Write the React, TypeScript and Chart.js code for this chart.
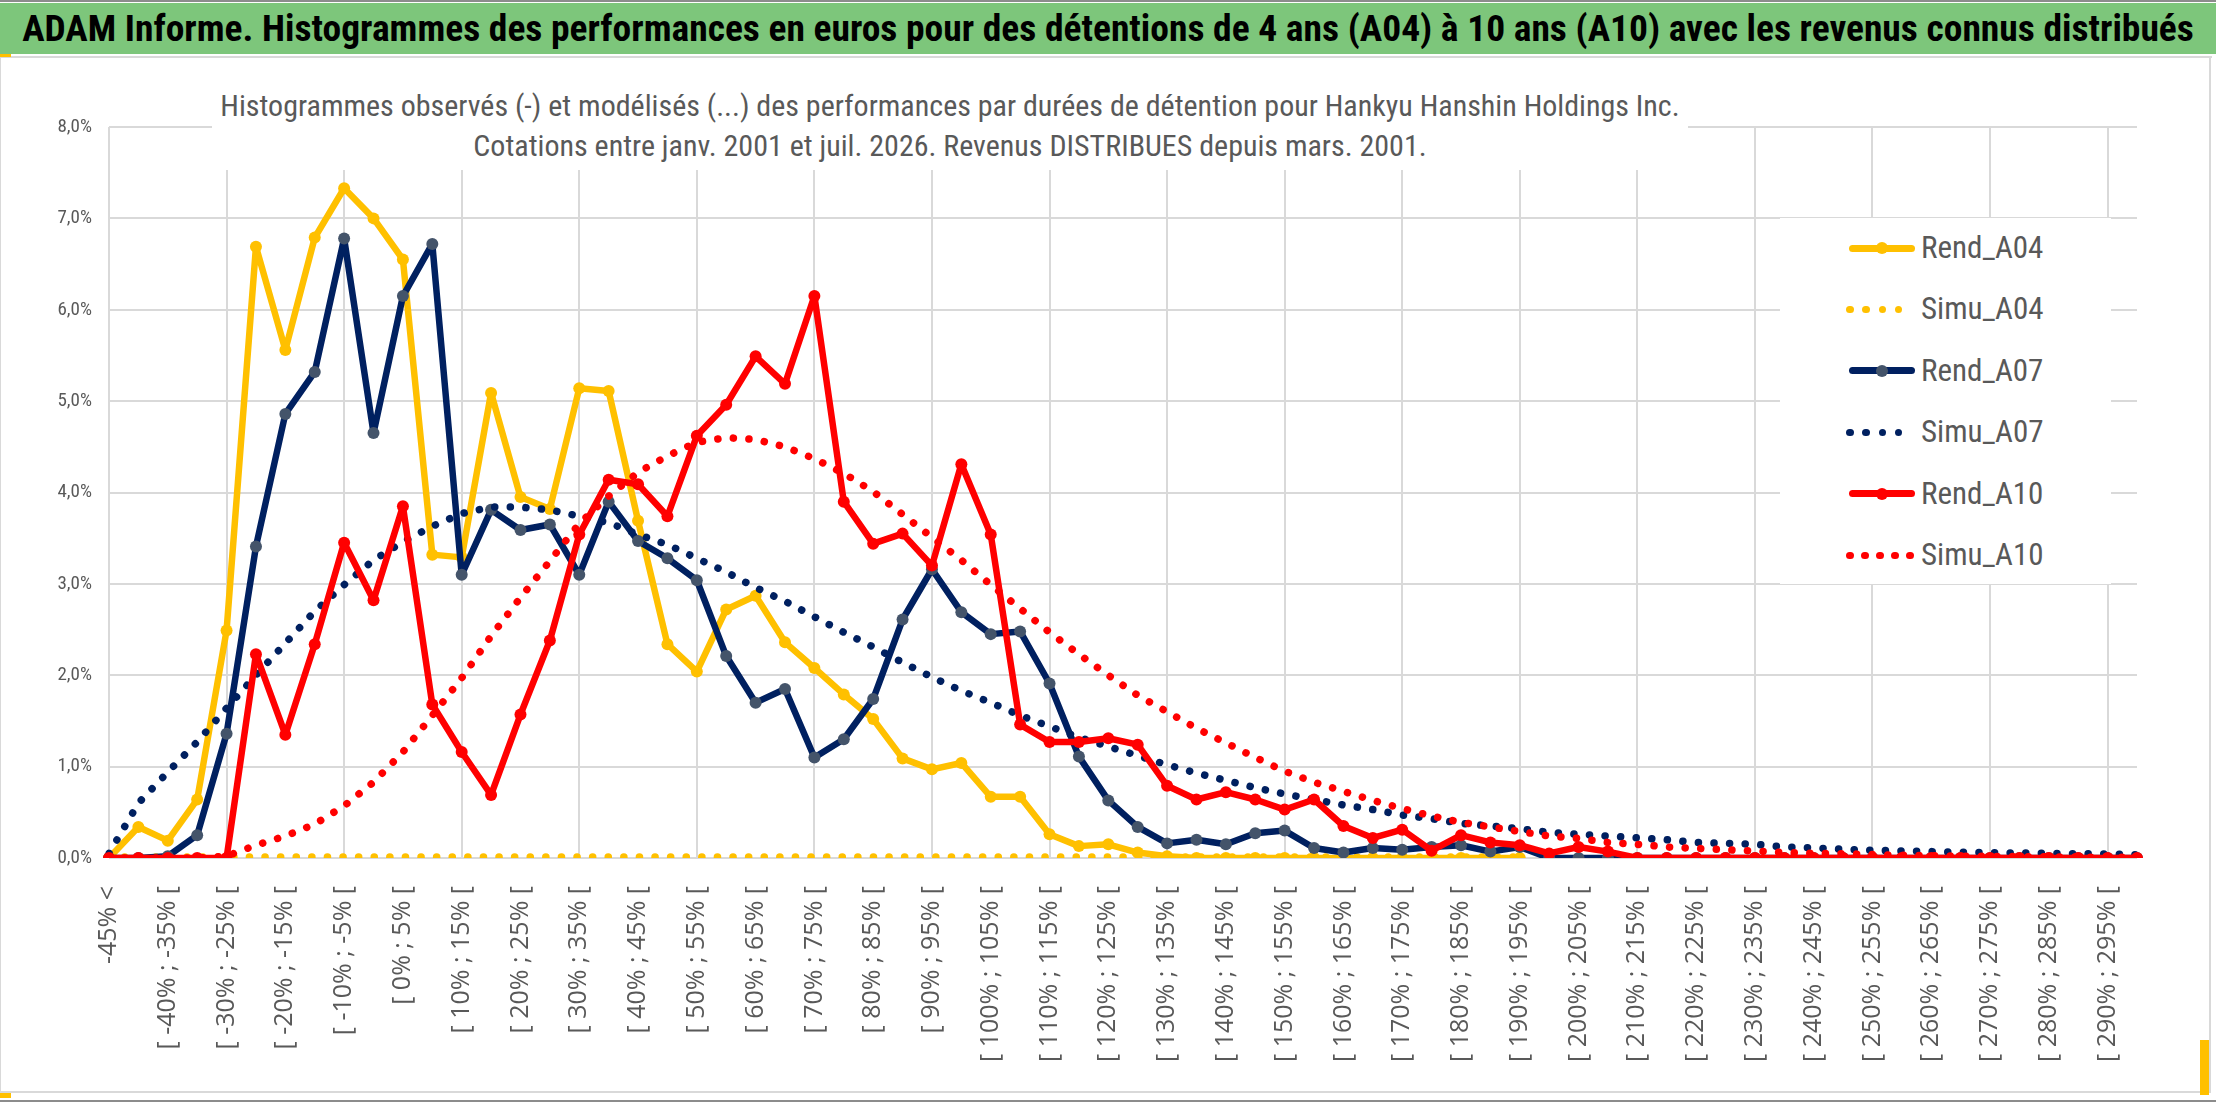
import { useEffect, useRef } from 'react';
import { Chart, registerables } from 'chart.js';

Chart.register(...registerables);

// classes de performance (5 points), une étiquette sur deux est affichée
const categories = [
	'-45% <', '[ -45% ; -40% [', '[ -40% ; -35% [', '[ -35% ; -30% [', '[ -30% ; -25% [',
	'[ -25% ; -20% [', '[ -20% ; -15% [', '[ -15% ; -10% [', '[ -10% ; -5% [', '[ -5% ; 0% [',
	'[ 0% ; 5% [', '[ 5% ; 10% [', '[ 10% ; 15% [', '[ 15% ; 20% [', '[ 20% ; 25% [',
	'[ 25% ; 30% [', '[ 30% ; 35% [', '[ 35% ; 40% [', '[ 40% ; 45% [', '[ 45% ; 50% [',
	'[ 50% ; 55% [', '[ 55% ; 60% [', '[ 60% ; 65% [', '[ 65% ; 70% [', '[ 70% ; 75% [',
	'[ 75% ; 80% [', '[ 80% ; 85% [', '[ 85% ; 90% [', '[ 90% ; 95% [', '[ 95% ; 100% [',
	'[ 100% ; 105% [', '[ 105% ; 110% [', '[ 110% ; 115% [', '[ 115% ; 120% [', '[ 120% ; 125% [',
	'[ 125% ; 130% [', '[ 130% ; 135% [', '[ 135% ; 140% [', '[ 140% ; 145% [', '[ 145% ; 150% [',
	'[ 150% ; 155% [', '[ 155% ; 160% [', '[ 160% ; 165% [', '[ 165% ; 170% [', '[ 170% ; 175% [',
	'[ 175% ; 180% [', '[ 180% ; 185% [', '[ 185% ; 190% [', '[ 190% ; 195% [', '[ 195% ; 200% [',
	'[ 200% ; 205% [', '[ 205% ; 210% [', '[ 210% ; 215% [', '[ 215% ; 220% [', '[ 220% ; 225% [',
	'[ 225% ; 230% [', '[ 230% ; 235% [', '[ 235% ; 240% [', '[ 240% ; 245% [', '[ 245% ; 250% [',
	'[ 250% ; 255% [', '[ 255% ; 260% [', '[ 260% ; 265% [', '[ 265% ; 270% [', '[ 270% ; 275% [',
	'[ 275% ; 280% [', '[ 280% ; 285% [', '[ 285% ; 290% [', '[ 290% ; 295% [', '[ 295% ; 300% [',
];

// fréquences en %
const rendA04 = [
	0, 0.34, 0.19, 0.64, 2.49, 6.69, 5.56, 6.79, 7.33, 7.0,
	6.55, 3.32, 3.29, 5.09, 3.95, 3.82, 5.14, 5.11, 3.69, 2.34,
	2.04, 2.72, 2.87, 2.36, 2.08, 1.79, 1.52, 1.09, 0.97, 1.04,
	0.67, 0.67, 0.26, 0.13, 0.15, 0.06, 0.02, 0, 0, 0,
	0, 0, 0, 0, 0, 0, 0, 0, 0,
];

const simuA04 = [
	0.01, 0.01, 0.01, 0.01, 0.01, 0.01, 0.01, 0.01, 0.01, 0.01,
	0.01, 0.01, 0.01, 0.01, 0.01, 0.01, 0.01, 0.01, 0.01, 0.01,
	0.01, 0.01, 0.01, 0.01, 0.01, 0.01, 0.01, 0.01, 0.01, 0.01,
	0.01, 0.01, 0.01, 0.01, 0.01, 0.01, 0.01, 0.01, 0.01, 0.01,
	0.01, 0.01, 0.01, 0.01, 0.01, 0.01, 0.01, 0.01, 0.01,
];

const rendA07 = [
	0, 0, 0.02, 0.25, 1.36, 3.41, 4.86, 5.32, 6.78, 4.65,
	6.15, 6.72, 3.1, 3.81, 3.59, 3.65, 3.1, 3.9, 3.47, 3.28,
	3.04, 2.21, 1.7, 1.85, 1.1, 1.3, 1.74, 2.61, 3.16, 2.69,
	2.45, 2.48, 1.91, 1.11, 0.63, 0.34, 0.16, 0.2, 0.15, 0.27,
	0.3, 0.11, 0.06, 0.11, 0.09, 0.12, 0.14, 0.07, 0.12, 0,
	0, 0, 0, 0, 0, 0, 0, 0, 0, 0,
	0, 0, 0, 0, 0, 0, 0, 0, 0, 0,
];

const simuA07 = [
	0.05, 0.6, 0.94, 1.27, 1.64, 2.0, 2.35, 2.7, 2.99, 3.26,
	3.46, 3.63, 3.77, 3.84, 3.84, 3.81, 3.74, 3.67, 3.54, 3.43,
	3.28, 3.13, 2.96, 2.81, 2.64, 2.47, 2.31, 2.14, 1.98, 1.83,
	1.7, 1.56, 1.44, 1.32, 1.22, 1.12, 1.02, 0.93, 0.85, 0.77,
	0.7, 0.64, 0.58, 0.53, 0.47, 0.43, 0.38, 0.35, 0.32, 0.28,
	0.26, 0.24, 0.22, 0.2, 0.17, 0.16, 0.15, 0.12, 0.11, 0.095,
	0.085, 0.077, 0.07, 0.062, 0.058, 0.055, 0.05, 0.047, 0.044, 0.035,
];

const rendA10 = [
	0, 0, 0, 0, 0, 2.23, 1.35, 2.34, 3.45, 2.82,
	3.85, 1.68, 1.16, 0.69, 1.57, 2.38, 3.54, 4.14, 4.09, 3.74,
	4.62, 4.96, 5.49, 5.19, 6.15, 3.9, 3.44, 3.55, 3.2, 4.31,
	3.54, 1.46, 1.27, 1.27, 1.31, 1.24, 0.79, 0.64, 0.72, 0.64,
	0.53, 0.64, 0.35, 0.22, 0.31, 0.08, 0.25, 0.17, 0.14, 0.05,
	0.12, 0.07, 0, 0, 0, 0, 0, 0, 0, 0,
	0, 0, 0, 0, 0, 0, 0, 0, 0, 0,
];

const simuA10 = [
	0, 0, 0, 0, 0.02, 0.14, 0.24, 0.37, 0.57, 0.83,
	1.16, 1.56, 1.97, 2.43, 2.85, 3.25, 3.66, 3.96, 4.22, 4.4,
	4.55, 4.6, 4.58, 4.5, 4.37, 4.21, 4.01, 3.76, 3.51, 3.26,
	2.99, 2.73, 2.47, 2.23, 2.0, 1.78, 1.6, 1.42, 1.26, 1.1,
	0.95, 0.83, 0.73, 0.63, 0.54, 0.46, 0.39, 0.34, 0.29, 0.24,
	0.215, 0.17, 0.15, 0.12, 0.105, 0.09, 0.077, 0.06, 0.05, 0.047,
	0.037, 0.03, 0.025, 0.02, 0.018, 0.015, 0.012, 0.01, 0.008, 0.006,
];

const seriesNames = ['Rend_A04', 'Simu_A04', 'Rend_A07', 'Simu_A07', 'Rend_A10', 'Simu_A10'];
const yMax = 8;

const mainTitle =
	'ADAM Informe. Histogrammes des performances en euros pour des détentions de 4 ans (A04) à 10 ans (A10) avec les revenus connus distribués';
const subTitle = [
	'Histogrammes observés (-) et modélisés (...) des performances par durées de détention pour Hankyu Hanshin Holdings Inc.',
	'Cotations entre janv. 2001 et juil. 2026. Revenus DISTRIBUES depuis mars. 2001.',
];

const YELLOW = '#FFC000';
const NAVY = '#002060';
const NAVY_MARK = '#44546A';
const RED = '#FF0000';
const GRID = '#D9D9D9';
const TEXT = '#595959';
const NARROW = "'Liberation Sans Narrow', 'Arial Narrow', 'Roboto Condensed', sans-serif";

const pct = (v: number) => v.toFixed(1).replace('.', ',') + '%';

const solid = (label: string, data: number[], color: string, mark: string) => ({
	label,
	data,
	borderColor: color,
	backgroundColor: color,
	borderWidth: 6.5,
	borderJoinStyle: 'round' as const,
	borderCapStyle: 'round' as const,
	pointRadius: 6,
	pointHoverRadius: 6,
	pointBackgroundColor: mark,
	pointBorderWidth: 0,
	tension: 0,
	fill: false,
});

const dotted = (label: string, data: number[], color: string) => ({
	label,
	data,
	borderColor: color,
	backgroundColor: color,
	borderWidth: 7.5,
	borderDash: [0.1, 15.5],
	borderCapStyle: 'round' as const,
	borderJoinStyle: 'round' as const,
	pointRadius: 0,
	pointHoverRadius: 0,
	tension: 0,
	fill: false,
});

const legendStyle = [
	{ color: YELLOW, mark: YELLOW, dots: 0 },
	{ color: YELLOW, mark: YELLOW, dots: 4 },
	{ color: NAVY, mark: NAVY_MARK, dots: 0 },
	{ color: NAVY, mark: NAVY, dots: 4 },
	{ color: RED, mark: RED, dots: 0 },
	{ color: RED, mark: RED, dots: 5 },
];

function Legend() {
	return (
		<div
			style={{
				position: 'absolute',
				left: 1780,
				top: 218,
				width: 331,
				height: 366,
				background: '#fff',
			}}>
			{seriesNames.map((name, i) => {
				const st = legendStyle[i];
				const cy = 30 + i * 61.4;
				return (
					<div key={name} style={{ position: 'absolute', left: 0, top: cy - 20, width: 331, height: 40 }}>
						{st.dots === 0 ? (
							<>
								<div
									style={{
										position: 'absolute',
										left: 69,
										top: 16.5,
										width: 66,
										height: 7,
										borderRadius: 3.5,
										background: st.color,
									}}
								/>
								<div
									style={{
										position: 'absolute',
										left: 96,
										top: 14,
										width: 12,
										height: 12,
										borderRadius: 6,
										background: st.mark,
									}}
								/>
							</>
						) : (
							Array.from({ length: st.dots }).map((_, k) => (
								<div
									key={k}
									style={{
										position: 'absolute',
										left: 66 + k * (st.dots === 5 ? 15 : 16.3),
										top: 16.5,
										width: 7.5,
										height: 7.5,
										borderRadius: 3.75,
										background: st.color,
									}}
								/>
							))
						)}
						<div
							style={{
								position: 'absolute',
								left: 141,
								top: 0,
								height: 40,
								lineHeight: '40px',
								fontFamily: NARROW,
								fontSize: 31,
								color: TEXT,
								whiteSpace: 'nowrap',
							}}>
							{name}
						</div>
					</div>
				);
			})}
		</div>
	);
}

export default function App() {
	const chartRef = useRef<HTMLCanvasElement | null>(null);
	const histoChartRef = useRef<Chart | null>(null);

	useEffect(() => {
		if (!chartRef.current) return;

		if (histoChartRef.current) {
			histoChartRef.current.destroy();
		}

		const ctx = chartRef.current.getContext('2d');
		if (!ctx) return;

		const datasets = [
			solid(seriesNames[0], rendA04, YELLOW, YELLOW),
			dotted(seriesNames[1], simuA04, YELLOW),
			solid(seriesNames[2], rendA07, NAVY, NAVY_MARK),
			dotted(seriesNames[3], simuA07, NAVY),
			solid(seriesNames[4], rendA10, RED, RED),
			dotted(seriesNames[5], simuA10, RED),
		].map((d, i, arr) => ({ ...d, order: arr.length - i })); // la dernière série passe devant

		histoChartRef.current = new Chart(ctx, {
			type: 'line',
			data: {
				labels: categories,
				datasets: datasets as any,
			},
			options: {
				responsive: false,
				animation: false,
				layout: {
					padding: { left: 9, right: 79, top: 127, bottom: 10 },
				},
				plugins: {
					legend: { display: false },
					tooltip: { enabled: false },
				},
				scales: {
					x: {
						grid: {
							color: (c: any) => (c.index % 4 === 0 ? GRID : 'rgba(0,0,0,0)'),
							lineWidth: 2,
							drawTicks: false,
						},
						border: { display: false },
						ticks: {
							autoSkip: false,
							maxRotation: 90,
							minRotation: 90,
							padding: 28,
							color: TEXT,
							font: { family: "'Open Sans'", size: 25 },
							callback: (_v: any, i: number) => (i % 2 === 0 ? categories[i] : ''),
						},
						afterFit: (scale: any) => {
							scale.height = 234;
						},
					},
					y: {
						min: 0,
						max: yMax,
						grid: { color: GRID, lineWidth: 2, drawTicks: false },
						border: { display: false },
						ticks: {
							stepSize: 1,
							padding: 17,
							color: TEXT,
							font: { family: NARROW, size: 19 },
							callback: (v: any) => pct(Number(v)),
						},
						afterFit: (scale: any) => {
							scale.width = 100;
						},
					},
				},
			},
		});

		return () => {
			if (histoChartRef.current) {
				histoChartRef.current.destroy();
				histoChartRef.current = null;
			}
		};
	}, []);

	return (
		<div
			style={{
				position: 'absolute',
				left: 0,
				top: 0,
				width: 2216,
				height: 1102,
				background: '#fff',
				overflow: 'hidden',
			}}>
			<canvas
				ref={chartRef}
				width={2216}
				height={1102}
				style={{ position: 'absolute', left: 0, top: 0, width: 2216, height: 1102 }}></canvas>

			{/* cadre */}
			<div style={{ position: 'absolute', left: 0, top: 0, width: 2216, height: 2, background: '#8C8C8C' }} />
			<div style={{ position: 'absolute', left: 0, top: 56, width: 2212, height: 2, background: GRID }} />
			<div style={{ position: 'absolute', left: 2209, top: 56, width: 2, height: 1037, background: GRID }} />
			<div style={{ position: 'absolute', left: 0, top: 56, width: 1, height: 1037, background: GRID }} />
			<div style={{ position: 'absolute', left: 0, top: 1091, width: 2211, height: 2, background: GRID }} />
			<div style={{ position: 'absolute', left: 0, top: 1100, width: 2216, height: 2, background: '#8C8C8C' }} />
			<div style={{ position: 'absolute', left: 0, top: 53, width: 11, height: 4, background: YELLOW }} />
			<div style={{ position: 'absolute', left: 0, top: 1093, width: 11, height: 5, background: YELLOW }} />
			<div style={{ position: 'absolute', left: 2200, top: 1040, width: 9, height: 55, background: YELLOW }} />

			{/* bandeau titre */}
			<div
				style={{
					position: 'absolute',
					left: 0,
					top: 3,
					width: 2216,
					height: 51,
					lineHeight: '51px',
					background: '#7DC67B',
					color: '#000',
					fontFamily: NARROW,
					fontWeight: 'bold',
					fontSize: 37.5,
					textAlign: 'center',
					whiteSpace: 'nowrap',
				}}>
				{mainTitle}
			</div>

			{/* titre du graphique */}
			<div
				style={{
					position: 'absolute',
					left: 212,
					top: 68,
					width: 1476,
					height: 102,
					boxSizing: 'border-box',
					paddingTop: 18,
					background: '#fff',
					color: TEXT,
					fontFamily: NARROW,
					fontSize: 30,
					lineHeight: '40px',
					textAlign: 'center',
					whiteSpace: 'nowrap',
				}}>
				<div>{subTitle[0]}</div>
				<div>{subTitle[1]}</div>
			</div>

			<Legend />
		</div>
	);
}
